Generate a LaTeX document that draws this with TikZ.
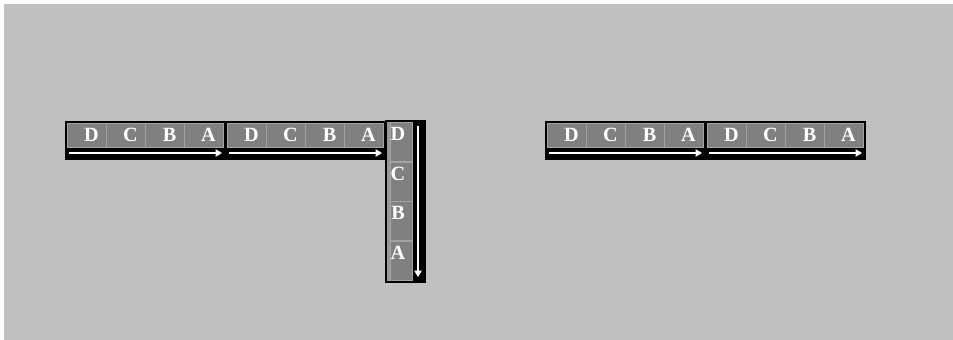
\documentclass[tikz,border=0pt]{standalone}
\usepackage{fontspec}
\setmainfont{Liberation Serif}
\usetikzlibrary{calc}
\usetikzlibrary{arrows.meta}
\definecolor{bggray}{HTML}{C0C0C0}
\definecolor{cellgray}{HTML}{808080}
\definecolor{edgegray}{HTML}{A2A2A2}
\tikzstyle{every node}=[font=\fontsize{11.5}{13}\selectfont\bfseries]
\tikzstyle{every path}=[line cap=butt,line join=miter]
\tikzstyle{hcell}=[rectangle,fill=cellgray,draw=edgegray,line width=0.5pt,minimum width=0.78cm,minimum height=0.48cm,inner sep=0pt]
\tikzstyle{vcell}=[rectangle,fill=cellgray,draw=edgegray,line width=0.5pt,minimum width=0.44cm,minimum height=0.78cm,inner sep=0pt]
\tikzstyle{letter}=[text=white,inner sep=0pt]
\tikzstyle{flow}=[draw=white,line width=0.6pt,-{Triangle[length=3.6pt,width=4.2pt]}]
% one horizontal queue: #1 name, #2 left edge
\newcommand{\hqueue}[2]{\fill[black] (#2,121) rectangle (#2+161,160);
	\foreach \i/\l in {0/D,1/C,2/B,3/A}{
		\node[hcell] (#1\l) at (#2+21.5+39*\i,135) {};
		\node[letter] (#1\l t) at ($(#1\l.center)+(5,-0.5)$) {\l};}
	\coordinate (#1s) at (#2+4,153);
	\coordinate (#1e) at (#2+157,153);
	\draw[flow] (#1s) -- (#1e);}

\begin{document}
\begin{tikzpicture}[x=0.02cm,y=-0.02cm]
		\useasboundingbox (0,0) rectangle (953,340);
		\fill[white] (0,0) rectangle (953,340);
		\fill[bggray] (4,4) rectangle (953,340);
		
		\hqueue{qa}{65}
		\hqueue{qb}{225}
		\hqueue{qd}{545}
		\hqueue{qe}{705}
		
		% vertical queue
		\fill[black] (385,120) rectangle (426,283);
		\fill[edgegray!70!cellgray] (387,122) rectangle (390,281);
		\foreach \i/\l in {0/D,1/C,2/B,3/A}{
			\node[vcell] (qc\l) at (401,142+39.5*\i) {};
			\node[letter] (qc\l t) at ($(qc\l.center)+(-3,-8)$) {\l};}
		\coordinate (qcs) at (418,126);
		\coordinate (qce) at (418,277);
		\draw[flow] (qcs) -- (qce);
		
	\end{tikzpicture}
\end{document}
